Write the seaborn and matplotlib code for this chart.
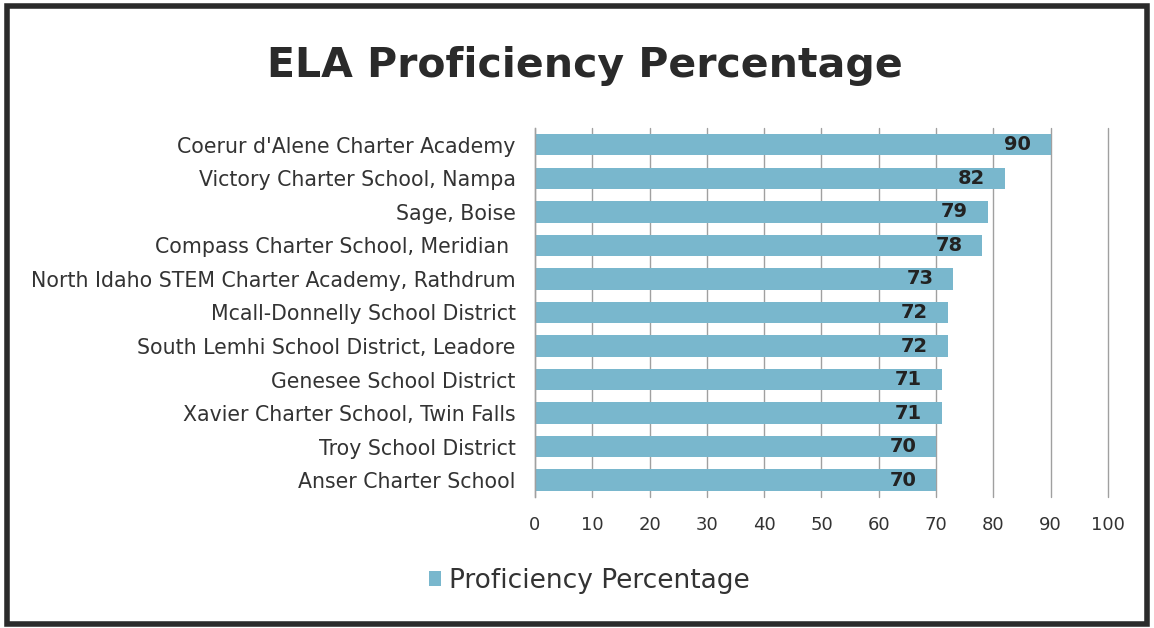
import matplotlib
matplotlib.use("Agg")
import matplotlib.pyplot as plt
import seaborn as sns
import pandas as pd
from matplotlib.patches import Rectangle, Patch

schools = [
    "Coerur d'Alene Charter Academy",
    "Victory Charter School, Nampa",
    "Sage, Boise",
    "Compass Charter School, Meridian ",
    "North Idaho STEM Charter Academy, Rathdrum",
    "Mcall-Donnelly School District",
    "South Lemhi School District, Leadore",
    "Genesee School District",
    "Xavier Charter School, Twin Falls",
    "Troy School District",
    "Anser Charter School",
]
proficiency = [90, 82, 79, 78, 73, 72, 72, 71, 71, 70, 70]
x_ticks = [0, 10, 20, 30, 40, 50, 60, 70, 80, 90, 100]
series_name = "Proficiency Percentage"
title = "ELA Proficiency Percentage"

df = pd.DataFrame({"School": schools, "Value": proficiency})

sns.set_theme(style="white")
plt.rcParams['font.family'] = ['DejaVu Sans']

bar_color = "#79b7cd"
text_color = "#333333"

fig = plt.figure(figsize=(11.54, 6.28), dpi=100)
ax = fig.add_axes([0.4636, 0.2086, 0.4965, 0.5876])

sns.barplot(data=df, y="School", x="Value", orient="h", color=bar_color,
            width=0.64, saturation=1, linewidth=0, ax=ax)

ax.set_xlim(0, 100)
ax.set_xticks(x_ticks)
ax.set_xticklabels([str(t) for t in x_ticks], fontsize=13, color=text_color)
ax.tick_params(axis="y", labelsize=14.8, labelcolor=text_color, length=0, pad=14)
ax.tick_params(axis="x", length=0, pad=14)
ax.set_xlabel("")
ax.set_ylabel("")
ax.xaxis.grid(True, color="#a0a0a0", linewidth=1)
for gl in ax.get_xgridlines():
    gl.set_clip_on(False)
ax.set_axisbelow(True)
for s in ["top", "right", "bottom"]:
    ax.spines[s].set_visible(False)
ax.spines["left"].set_color("#a0a0a0")
ax.spines["left"].set_linewidth(1)

for c in ax.containers:
    anns = ax.bar_label(c, labels=[str(v) for v in proficiency], padding=-14,
                        fontsize=14, fontweight="bold", color="#222222")
    for a in anns:
        a.set_ha("right")

fig.text(0.507, 0.895, title, ha="center", va="center", fontsize=29.5,
         fontweight="bold", color="#2a2a2a")

handles = [Patch(facecolor=bar_color, edgecolor="none", label=series_name)]
fig.legend(handles=handles, loc="center", bbox_to_anchor=(0.511, 0.075),
           frameon=False, fontsize=19, handlelength=0.45, handleheight=0.45,
           handletextpad=0.3, labelcolor=text_color)

fig.patches.append(Rectangle((0.006, 0.006), 0.988, 0.985, transform=fig.transFigure,
                             fill=False, edgecolor="#2b2b2b", linewidth=4))

fig.savefig("out.png", dpi=100)
